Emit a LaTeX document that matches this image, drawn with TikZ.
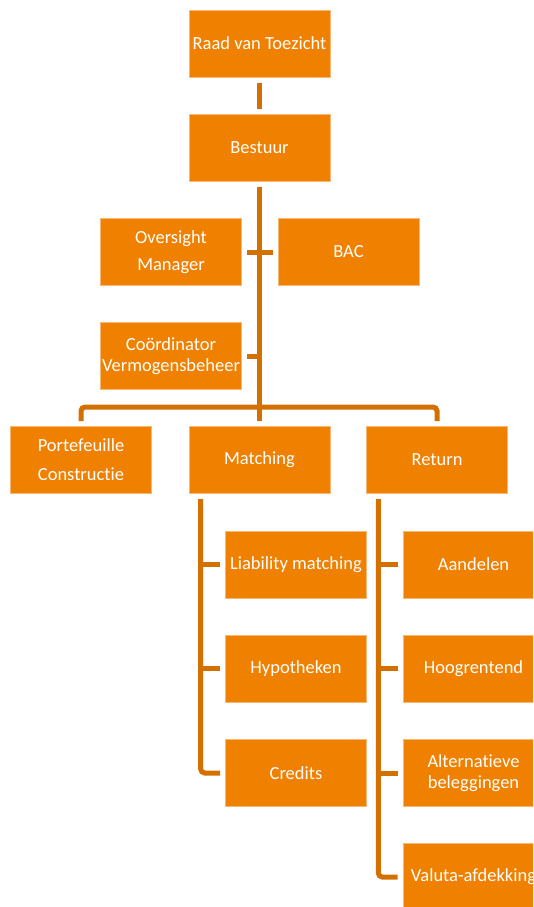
\documentclass[tikz,border=0pt]{standalone}
\usepackage{fontspec}
\setmainfont{Carlito}[Ligatures=NoCommon]
\usepackage{xcolor}
\usetikzlibrary{positioning,calc}
\definecolor{boxorange}{RGB}{239,128,0}
\definecolor{lineorange}{RGB}{212,112,0}

\begin{document}
\begin{tikzpicture}[
  x=1pt, y=1pt,
  box/.style={fill=boxorange, draw=boxorange!55!white, line width=0.75pt, text=white, align=center,
    minimum width=141pt, minimum height=67pt, inner sep=0pt, outer sep=5.5pt,
    font=\fontsize{18.5}{21}\selectfont},
  conn/.style={draw=lineorange, line width=5pt},
  elbow/.style={conn, rounded corners=4pt}
]
\useasboundingbox (0,0) rectangle (533,-907);
\clip (0,0) rectangle (533,-907);
% top of the chart
\node[box] (raad)      at (259.5,-43.5) {Raad van Toezicht};
\node[box] (bestuur)   at (259.5,-147.5) {Bestuur};
\node[box] (oversight) at (171,-252) {Oversight\\[6pt]Manager};
\node[box] (bac)       at (348.5,-252) {BAC};
\node[box] (coord)     at (171,-356) {Coördinator\\Vermogensbeheer};
% second level
\node[box] (port)  at (81,-460) {Portefeuille\\[8pt]Constructie};
\node[box] (match) at (259.5,-460) {Matching};
\node[box] (ret)   at (437,-460) {Return};
% matching column
\node[box] (liab) at (296,-564.5) {Liability matching};
\node[box] (hyp)  at (296,-668.5) {Hypotheken};
\node[box] (cred) at (296,-773) {Credits};
% return column
\node[box] (aand) at (473.5,-564.5) {Aandelen};
\node[box] (hoog) at (473.5,-668.5) {Hoogrentend};
\node[box] (alt)  at (473.5,-773) {Alternatieve\\beleggingen};
\node[box] (val)  at (473.5,-877) {Valuta-afdekking};
\coordinate (bar)    at (259.5,-407);
\coordinate (mspine) at (200.7,-500);
\coordinate (rspine) at (378.3,-500);
\draw[conn] (raad) -- (bestuur);
\draw[conn] (bestuur) -- (match);
\draw[conn] (oversight.east) -- (bac.west);
\draw[conn] (coord.east) -- (coord.east -| bestuur);
\draw[elbow] (port.north) |- (bar) -| (ret.north);
\draw[elbow] (match.south -| mspine) |- (cred.west);
\draw[elbow] (ret.south -| rspine) |- (val.west);
\foreach \c in {liab,hyp}{\draw[conn] (\c.west) -- (\c.west -| mspine);}
\foreach \c in {aand,hoog,alt}{\draw[conn] (\c.west) -- (\c.west -| rspine);}
\end{tikzpicture}
\end{document}
